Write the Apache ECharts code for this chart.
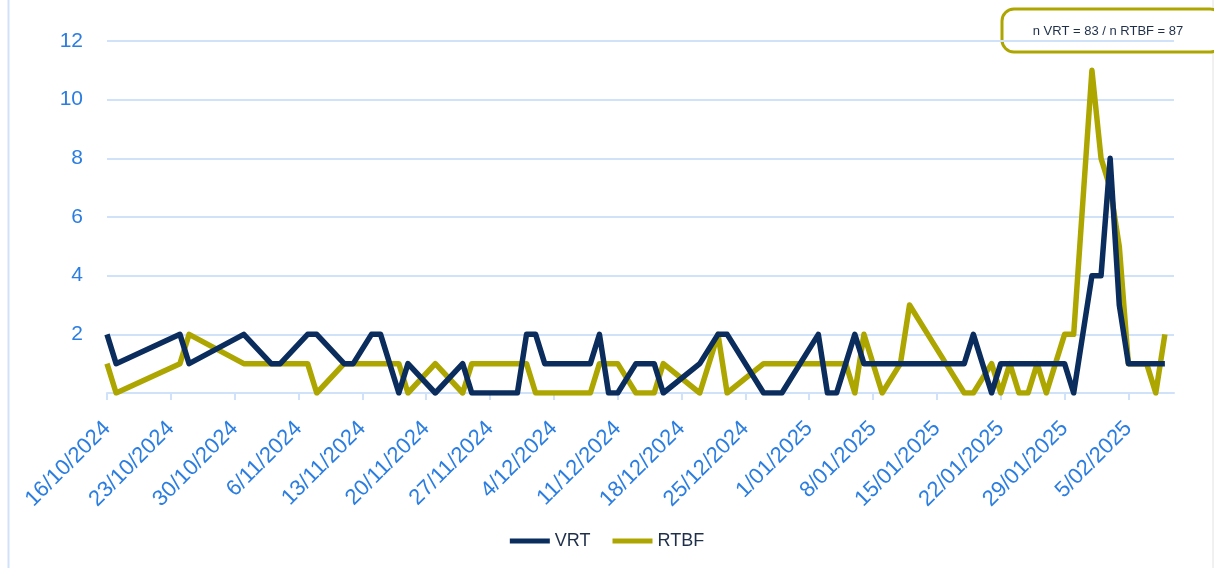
<!DOCTYPE html>
<html>
<head>
<meta charset="utf-8">
<title>VRT / RTBF</title>
<script src="https://cdn.jsdelivr.net/npm/echarts@6/dist/echarts.min.js"></script>
<style>
	html, body { margin: 0; padding: 0; background: #fff; }
	#mychart { width: 1214px; height: 568px; }
</style>
</head>
<body>
<div id="mychart"></div>
<script>
// dates with at least one article (d/m/yyyy)
var dates = [
	'16/10/2024', '17/10/2024', '24/10/2024', '25/10/2024', '31/10/2024',
	'3/11/2024', '4/11/2024', '7/11/2024', '8/11/2024', '11/11/2024',
	'12/11/2024', '14/11/2024', '15/11/2024', '17/11/2024', '18/11/2024',
	'21/11/2024', '24/11/2024', '25/11/2024', '30/11/2024', '1/12/2024',
	'2/12/2024', '3/12/2024', '8/12/2024', '9/12/2024', '10/12/2024',
	'11/12/2024', '13/12/2024', '15/12/2024', '16/12/2024', '20/12/2024',
	'22/12/2024', '23/12/2024', '27/12/2024', '29/12/2024', '2/01/2025',
	'3/01/2025', '4/01/2025', '5/01/2025', '6/01/2025', '7/01/2025',
	'9/01/2025', '11/01/2025', '12/01/2025', '14/01/2025', '16/01/2025',
	'18/01/2025', '19/01/2025', '21/01/2025', '22/01/2025', '23/01/2025',
	'24/01/2025', '25/01/2025', '26/01/2025', '27/01/2025', '28/01/2025',
	'29/01/2025', '30/01/2025', '1/02/2025', '2/02/2025', '3/02/2025',
	'4/02/2025', '5/02/2025', '6/02/2025', '7/02/2025', '8/02/2025',
	'9/02/2025'
];
var vrt = [
	2, 1, 2, 1, 2, 1, 1, 2, 2, 1,
	1, 2, 2, 0, 1, 0, 1, 0, 0, 2,
	2, 1, 1, 2, 0, 0, 1, 1, 0, 1,
	2, 2, 0, 0, 2, 0, 0, 1, 2, 1,
	1, 1, 1, 1, 1, 1, 2, 0, 1, 1,
	1, 1, 1, 1, 1, 1, 0, 4, 4, 8,
	3, 1, 1, 1, 1, 1
];
var rtbf = [
	1, 0, 1, 2, 1, 1, 1, 1, 0, 1,
	1, 1, 1, 1, 0, 1, 0, 1, 1, 1,
	0, 0, 0, 1, 1, 1, 0, 0, 1, 0,
	2, 0, 1, 1, 1, 1, 1, 1, 0, 2,
	0, 1, 3, 2, 1, 0, 0, 1, 0, 1,
	0, 0, 1, 0, 1, 2, 2, 11, 8, 7,
	5, 1, 1, 1, 0, 2
];
var seriesNames = ['VRT', 'RTBF'];
var startDate = '16/10/2024';
var endDate = '10/02/2025';
var yTicks = [0, 2, 4, 6, 8, 10, 12];
var note = 'n VRT = 83 / n RTBF = 87';

var chart = {
	day : 86400000,

	initial : function initial() {
		var myChart = echarts.init(document.getElementById('mychart'));
		myChart.setOption(this.buildOption());
	},

	parse : function parse(s) {
		var p = s.split('/');
		return Date.UTC(+p[2], +p[1] - 1, +p[0]);
	},

	// days since the first date of the axis
	offset : function offset(s) {
		return Math.round((this.parse(s) - this.parse(startDate)) / this.day);
	},

	label : function label(v) {
		if (v % 7 !== 0) return '';
		var d = new Date(this.parse(startDate) + v * this.day);
		var m = d.getUTCMonth() + 1;
		return d.getUTCDate() + '/' + (m < 10 ? '0' + m : m) + '/' + d.getUTCFullYear();
	},

	pairs : function pairs(values) {
		var list = [];
		for (var i = 0; i < dates.length; i++) {
			list.push([this.offset(dates[i]), values[i]]);
		}
		return list;
	},

	buildOption : function buildOption() {
		var self = this;
		var blue = '#2a7de1';
		var grid = '#cfe2f9';
		var font = 'Liberation Sans';
		return {
			animation : false,
			textStyle : { fontFamily : font },
			grid : { left : 107, right : 40, top : 41, bottom : 175 },
			legend : {
				data : seriesNames,
				top : 527,
				left : 'center',
				icon : 'rect',
				itemWidth : 40,
				itemHeight : 5,
				itemGap : 22,
				textStyle : { fontSize : 18, color : '#1f2f4a', fontFamily : font }
			},
			xAxis : {
				type : 'value',
				min : 0,
				max : this.offset(endDate),
				interval : 7,
				splitLine : { show : false },
				axisLine : { lineStyle : { color : grid, width : 2 } },
				axisTick : { show : true, length : 7, lineStyle : { color : grid, width : 2 } },
				axisLabel : {
					rotate : 45,
					margin : 32,
					fontSize : 22,
					color : blue,
					showMaxLabel : false,
					formatter : function(v) { return self.label(v); }
				}
			},
			yAxis : {
				type : 'value',
				min : yTicks[0],
				max : yTicks[yTicks.length - 1],
				interval : 2,
				axisLine : { show : false },
				axisTick : { show : false },
				splitLine : { lineStyle : { color : grid, width : 2 } },
				axisLabel : {
					margin : 24,
					fontSize : 21,
					color : blue,
					showMinLabel : false
				}
			},
			series : [
				{
					name : seriesNames[0],
					type : 'line',
					symbol : 'none',
					z : 3,
					lineStyle : { width : 5.5, color : '#0b2d5e', join : 'round' },
					itemStyle : { color : '#0b2d5e' },
					data : this.pairs(vrt)
				},
				{
					name : seriesNames[1],
					type : 'line',
					symbol : 'none',
					z : 2,
					lineStyle : { width : 5.5, color : '#ada600', join : 'round' },
					itemStyle : { color : '#ada600' },
					data : this.pairs(rtbf)
				}
			],
			graphic : [
				{
					type : 'line',
					shape : { x1 : 8.5, y1 : 0, x2 : 8.5, y2 : 568 },
					style : { stroke : '#cfe2f9', lineWidth : 2 }
				},
				{
					type : 'line',
					shape : { x1 : 1213, y1 : 0, x2 : 1213, y2 : 568 },
					style : { stroke : '#e2e2e2', lineWidth : 1 }
				},
				{
					type : 'rect',
					shape : { x : 1002, y : 9, width : 220, height : 43, r : 12 },
					style : { fill : '#fff', stroke : '#ada600', lineWidth : 3 }
				},
				{
					type : 'text',
					x : 1108,
					y : 31,
					style : {
						text : note,
						fill : '#1f2f4a',
						font : '13px "Liberation Sans"',
						align : 'center',
						verticalAlign : 'middle'
					}
				}
			]
		};
	}
};

chart.initial();
</script>
</body>
</html>
